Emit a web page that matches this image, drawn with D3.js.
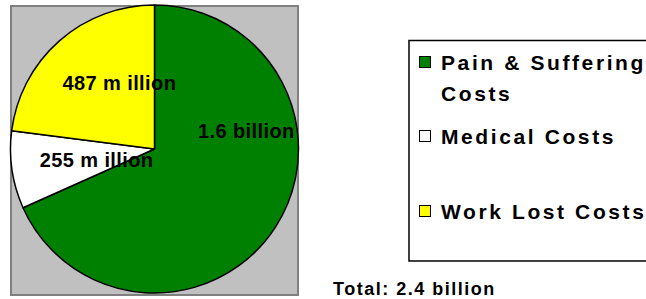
<!DOCTYPE html>
<html>
<head>
<meta charset="utf-8">
<script src="https://cdn.jsdelivr.net/npm/d3@7"></script>
<style>
  html, body { margin: 0; padding: 0; background: #fff; }
  svg { display: block; }
  text { font-family: "Liberation Sans", Arial, sans-serif; font-weight: bold; fill: #000; }
</style>
</head>
<body>
<svg id="chart" width="646" height="299"></svg>
<script>
// ---- data ----
const categories = ["Pain & Suffering Costs", "Medical Costs", "Work Lost Costs"];
// slice sizes (millions)
const values = [1600, 204, 538];
// data labels as printed on the chart
const sliceLabels = ["1.6 billion", "255 million", "487 million"];
const colors = ["#008000", "#ffffff", "#ffff00"];
const legendLines = [["Pain & Suffering", "Costs"], ["Medical Costs"], ["Work Lost Costs"]];
const totalLabel = "Total: 2.4 billion";

// ---- layout ----
const svg = d3.select("#chart");
const cx = 154.5, cy = 149, R = 144;

// plot-area background
svg.append("rect")
  .attr("x", 11).attr("y", 6).attr("width", 287).attr("height", 289)
  .attr("fill", "#c0c0c0").attr("stroke", "#808080").attr("stroke-width", 2);

const pie = d3.pie().sort(null).value(d => d)(values);
const arc = d3.arc().innerRadius(0).outerRadius(R);

const g = svg.append("g").attr("transform", `translate(${cx},${cy})`);
g.selectAll("path.slice").data(pie).join("path")
  .attr("class", "slice")
  .attr("d", arc)
  .attr("fill", (d, i) => colors[i])
  .attr("stroke", "#000").attr("stroke-width", 1.5).attr("stroke-linejoin", "round");

// label placement (angle in degrees clockwise from 12 o'clock, fraction of radius)
const labelPlace = [[79, 0.65], [259, 0.41], [332, 0.52]];
g.selectAll("text.lbl").data(pie).join("text")
  .attr("class", "lbl")
  .attr("text-anchor", "middle")
  .attr("font-size", 20)
  .attr("letter-spacing", 0.4)
  .attr("x", (d, i) => Math.sin(labelPlace[i][0] * Math.PI / 180) * R * labelPlace[i][1])
  .attr("y", (d, i) => -Math.cos(labelPlace[i][0] * Math.PI / 180) * R * labelPlace[i][1] + 7)
  .each(function (d, i) {
    const s = sliceLabels[i];
    const k = s.indexOf(" m");
    const t = d3.select(this);
    if (k >= 0) {
      t.append("tspan").text(s.slice(0, k + 2));
      t.append("tspan").attr("dx", 6).text(s.slice(k + 2));
    } else {
      t.text(s);
    }
  });

// legend
svg.append("rect")
  .attr("x", 409).attr("y", 40.5).attr("width", 260).attr("height", 220.5)
  .attr("fill", "#fff").attr("stroke", "#000").attr("stroke-width", 1.5);

const legendBaselines = [70, 144, 219];
const lg = svg.append("g");
categories.forEach((c, i) => {
  lg.append("rect")
    .attr("x", 419.5).attr("y", legendBaselines[i] - 13.5)
    .attr("width", 11).attr("height", 11)
    .attr("fill", colors[i]).attr("stroke", "#000").attr("stroke-width", 1);
  const t = lg.append("text")
    .attr("x", 441).attr("y", legendBaselines[i])
    .attr("font-size", 21).attr("letter-spacing", 2.6);
  legendLines[i].forEach((ln, j) => {
    t.append("tspan").attr("x", 441).attr("dy", j === 0 ? 0 : 31).text(ln);
  });
});

svg.append("text")
  .attr("x", 333).attr("y", 295)
  .attr("font-size", 18).attr("letter-spacing", 1.5)
  .text(totalLabel);
</script>
</body>
</html>
